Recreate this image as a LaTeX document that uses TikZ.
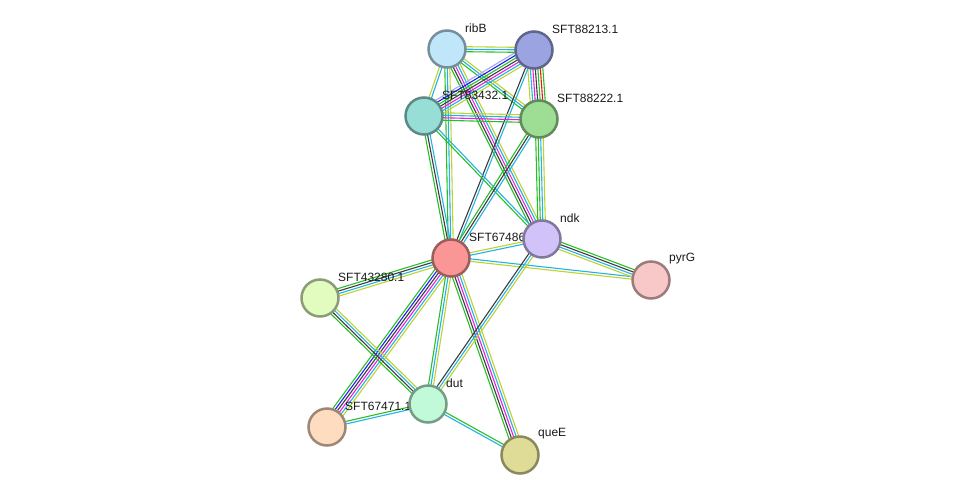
\documentclass[tikz,border=0pt]{standalone}
\usepackage{fontspec}
\setmainfont{Liberation Sans}
\usetikzlibrary{calc}
\usetikzlibrary{backgrounds}

% evidence colours
\definecolor{grn}{RGB}{40,190,40}
\definecolor{cyn}{RGB}{35,180,225}
\definecolor{yel}{RGB}{190,210,50}
\definecolor{mag}{RGB}{230,30,230}
\definecolor{blk}{RGB}{60,60,60}
\definecolor{rd}{RGB}{240,20,20}
\definecolor{blu}{RGB}{30,30,240}
\definecolor{lav}{RGB}{165,165,255}

% protein fills
\definecolor{cribB}{RGB}{192,230,250}
\definecolor{c88213}{RGB}{155,164,224}
\definecolor{c83432}{RGB}{150,222,214}
\definecolor{c88222}{RGB}{158,222,148}
\definecolor{c67486}{RGB}{250,150,150}
\definecolor{cndk}{RGB}{210,194,250}
\definecolor{cpyrG}{RGB}{248,200,200}
\definecolor{c43280}{RGB}{226,252,192}
\definecolor{c67471}{RGB}{253,220,192}
\definecolor{cdut}{RGB}{192,250,216}
\definecolor{cqueE}{RGB}{222,220,150}

% one thin line per colour, side by side
\newcommand{\multiedge}[3]{%
  \foreach \c [count=\n] in {#3} {\xdef\nlines{\n}}
  \foreach \c [count=\i] in {#3} {
    \pgfmathsetmacro{\off}{(\i-(\nlines+1)/2)*2.5}
    \draw[color=\c,line width=1.1pt] ($(#1.center)!\off pt!90:(#2.center)$) -- ($(#2.center)!\off pt!-90:(#1.center)$);
  }
}

\tikzset{
  prot/.style={circle,draw=#1!62!black,fill=#1,line width=2.5pt,minimum size=37pt,inner sep=0pt},
  lbl/.style={anchor=west,inner sep=0pt,font=\fontsize{12}{14}\selectfont,text=black!90}
}

\begin{document}
\begin{tikzpicture}[x=1pt,y=-1pt]
    \useasboundingbox (0,0) rectangle (975,501);

    % proteins
    \node[prot=cribB] (ribB) at (447,49) {};
    \node[lbl] (ribBl) at ($(ribB)+(18,-21)$) {ribB};
    \node[prot=c88213] (s88213) at (534,50) {};
    \node[lbl] (s88213l) at ($(s88213)+(18,-21)$) {SFT88213.1};
    \node[prot=c83432] (s83432) at (424,116) {};
    \node[prot=c88222] (s88222) at (539,119) {};
    \node[lbl] (s88222l) at ($(s88222)+(18,-21)$) {SFT88222.1};
    \node[lbl] (s83432l) at ($(s83432)+(18,-21)$) {SFT83432.1};
    \node[prot=c67486] (s67486) at (451,258) {};
    \node[lbl] (s67486l) at ($(s67486)+(18,-21)$) {SFT67486.1};
    \node[prot=cndk] (ndk) at (542,239) {};
    \node[lbl] (ndkl) at ($(ndk)+(18,-21)$) {ndk};
    \node[prot=cpyrG] (pyrG) at (651,280) {};
    \node[lbl] (pyrGl) at ($(pyrG)+(18,-21)$) {pyrG};
    \node[prot=c43280] (s43280) at (320,298) {};
    \node[lbl] (s43280l) at ($(s43280)+(18,-21)$) {SFT43280.1};
    \node[prot=c67471] (s67471) at (327,427) {};
    \node[lbl] (s67471l) at ($(s67471)+(18,-21)$) {SFT67471.1};
    \node[prot=cdut] (dut) at (428,404) {};
    \node[lbl] (dutl) at ($(dut)+(18,-21)$) {dut};
    \node[prot=cqueE] (queE) at (520,455) {};
    \node[lbl] (queEl) at ($(queE)+(18,-21)$) {queE};

    % associations
    \begin{pgfonlayer}{background}
    \multiedge{ribB}{s88213}{grn,cyn,yel}
    \multiedge{ribB}{s83432}{yel,cyn}
    \multiedge{ribB}{s88222}{grn,cyn,yel}
    \multiedge{ribB}{s67486}{grn,cyn,yel}
    \multiedge{ribB}{ndk}{grn,blk,mag,cyn,yel}
    \multiedge{s88213}{s83432}{lav,blu,grn,blk,mag,cyn,yel}
    \multiedge{s88213}{s88222}{yel,cyn,mag,blk,grn,rd,grn}
    \multiedge{s88213}{s67486}{blk,cyn}
    \multiedge{s83432}{s88222}{grn,mag,cyn,yel}
    \multiedge{s83432}{s67486}{grn,blk,cyn}
    \multiedge{s83432}{ndk}{grn,cyn}
    \multiedge{s88222}{s67486}{grn,blk,cyn}
    \multiedge{s88222}{ndk}{grn,grn,cyn,yel}
    \multiedge{s67486}{ndk}{cyn,yel}
    \multiedge{s67486}{pyrG}{yel,cyn}
    \multiedge{ndk}{pyrG}{yel,cyn,blk,grn}
    \multiedge{s67486}{s43280}{grn,blk,cyn,yel}
    \multiedge{s67486}{s67471}{grn,blu,blk,mag,cyn,yel}
    \multiedge{s67486}{dut}{grn,cyn,yel}
    \multiedge{s67486}{queE}{grn,blk,mag,cyn,yel}
    \multiedge{s43280}{dut}{grn,blk,cyn,yel}
    \multiedge{s67471}{dut}{cyn,grn}
    \multiedge{dut}{queE}{cyn,grn}
    \multiedge{ndk}{dut}{blk,cyn,yel}
    \end{pgfonlayer}
\end{tikzpicture}
\end{document}
